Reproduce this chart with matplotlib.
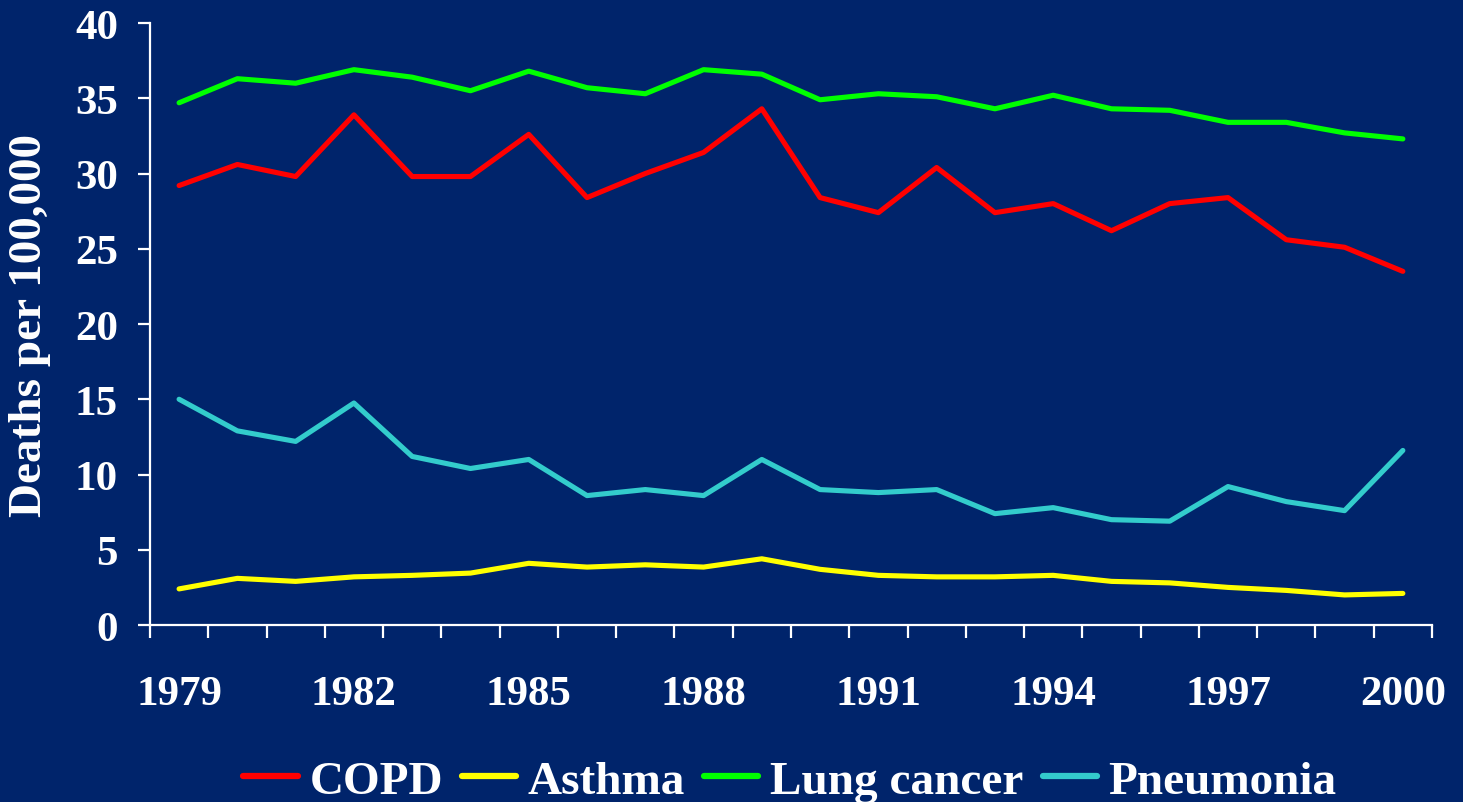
import matplotlib
matplotlib.use("Agg")
import matplotlib.pyplot as plt
import numpy as np

# Death rates per 100,000, 1979-2000
years = list(range(1979, 2001))
copd = [29.2, 30.6, 29.8, 33.9, 29.8, 29.8, 32.6, 28.4, 30.0, 31.4, 34.3,
        28.4, 27.4, 30.4, 27.4, 28.0, 26.2, 28.0, 28.4, 25.6, 25.1, 23.5]
asthma = [2.4, 3.1, 2.9, 3.2, 3.3, 3.45, 4.1, 3.85, 4.0, 3.85, 4.4,
          3.7, 3.3, 3.2, 3.2, 3.3, 2.9, 2.8, 2.5, 2.3, 2.0, 2.1]
lung_cancer = [34.7, 36.3, 36.0, 36.9, 36.4, 35.5, 36.8, 35.7, 35.3, 36.9, 36.6,
               34.9, 35.3, 35.1, 34.3, 35.2, 34.3, 34.2, 33.4, 33.4, 32.7, 32.3]
pneumonia = [15.0, 12.9, 12.2, 14.75, 11.2, 10.4, 11.0, 8.6, 9.0, 8.6, 11.0,
             9.0, 8.8, 9.0, 7.4, 7.8, 7.0, 6.9, 9.2, 8.2, 7.6, 11.6]

bg = "#00246B"
plt.rcParams["font.family"] = ["Liberation Serif", "DejaVu Serif"]
plt.rcParams["font.weight"] = "bold"

fig = plt.figure(figsize=(14.63, 8.03), dpi=100, facecolor=bg)
ax = fig.add_axes([0.1025, 0.2204, 0.8763, 0.7497], facecolor=bg)

x = np.arange(len(years))
lw = 3.7
ax.plot(x, copd, color="#FF0000", lw=lw, label="COPD", solid_capstyle="round")
ax.plot(x, asthma, color="#FFFF00", lw=lw, label="Asthma", solid_capstyle="round")
ax.plot(x, lung_cancer, color="#00FF00", lw=lw, label="Lung cancer", solid_capstyle="round")
ax.plot(x, pneumonia, color="#33CCCC", lw=lw, label="Pneumonia", solid_capstyle="round")

ax.set_xlim(-0.5, len(years) - 0.5)
ax.set_ylim(0, 40)
ax.set_yticks(range(0, 41, 5))
ax.set_xticks(x[::3])
ax.set_xticklabels([str(y) for y in years[::3]])
ax.set_xticks(np.arange(-0.5, len(years), 1.0), minor=True)

for s in ["top", "right"]:
    ax.spines[s].set_visible(False)
for s in ["left", "bottom"]:
    ax.spines[s].set_color("white")
    ax.spines[s].set_linewidth(1.6)

ax.tick_params(axis="x", which="major", length=0, pad=36, labelsize=31, colors="white")
ax.tick_params(axis="x", which="minor", length=9, width=1.6, color="white", direction="out")
ax.tick_params(axis="y", length=9, width=1.6, color="white", labelcolor="white",
               labelsize=31, pad=14)

ax.set_ylabel("Deaths per 100,000", color="white", fontsize=34, fontweight="bold")
ax.yaxis.set_label_coords(-0.077, 0.5)

leg = fig.legend(loc="center", bbox_to_anchor=(0.54, 0.026), ncol=4, frameon=False,
                 fontsize=34, handlelength=1.15, handletextpad=0.25, columnspacing=0.4)
for t in leg.get_texts():
    t.set_color("white")
for h in leg.legend_handles:
    h.set_linewidth(4.5)

fig.savefig("out.png", dpi=100, facecolor=bg)
